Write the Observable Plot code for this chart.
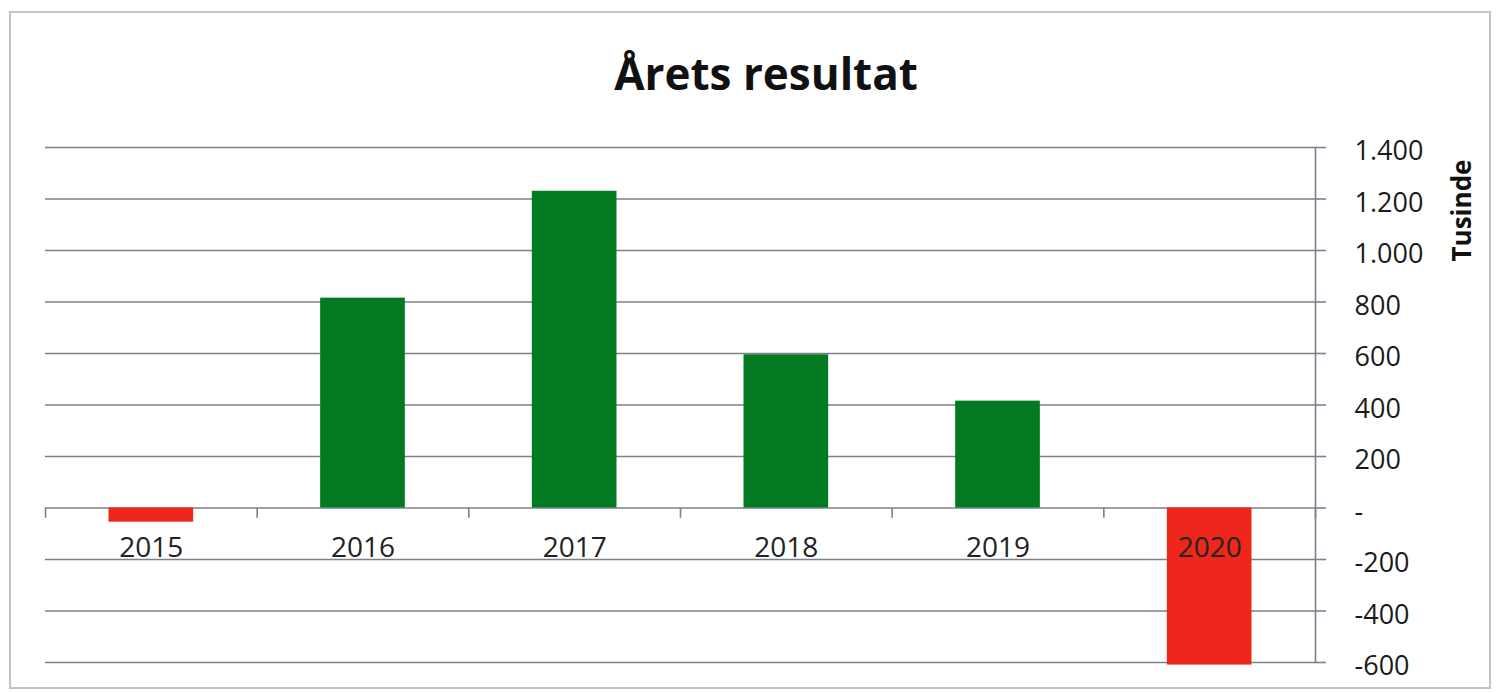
<!DOCTYPE html>
<html>
<head>
<meta charset="utf-8">
<script src="https://cdn.jsdelivr.net/npm/d3@7"></script>
<script src="https://cdn.jsdelivr.net/npm/@observablehq/plot@0.6"></script>
<style>
  html, body { margin: 0; padding: 0; background: #fff; }
  #wrap { position: relative; width: 1498px; height: 693px; overflow: hidden; font-family: "Open Sans", sans-serif; }
  #border { position: absolute; left: 9px; top: 11px; width: 1478px; height: 674px; border: 2px solid #c4c4c4; }
  #title { position: absolute; top: 43px; left: 766px; transform: translateX(-50%); font-size: 44px; font-weight: 700; color: #111; white-space: nowrap; }
  #chart { position: absolute; left: 0; top: 120px; }
</style>
</head>
<body>
<div id="wrap">
  <div id="border"></div>
  <div id="title">Årets resultat</div>
  <div id="chart"></div>
</div>
<script>
const years = [2015, 2016, 2017, 2018, 2019, 2020];
const values = [-55, 815, 1230, 595, 415, -610];
const yTicks = [-600, -400, -200, 0, 200, 400, 600, 800, 1000, 1200, 1400];
const axisLabel = "Tusinde";

const data = years.map((y, i) => ({year: y, value: values[i]}));
const boundaries = years.map(y => y - 0.5).concat([years[years.length - 1] + 0.5]);
const loc = d3.formatLocale({decimal: ",", thousands: ".", grouping: [3], currency: ["", " kr"], minus: "-"});
const fmt = loc.format(",d");
const gridColor = "#7c7f8e";

const chart = Plot.plot({
  width: 1498,
  height: 573,
  marginTop: 27,
  marginBottom: 31,
  marginLeft: 45,
  marginRight: 183,
  style: {fontFamily: "Open Sans, sans-serif", background: "transparent"},
  x: {type: "linear", domain: [boundaries[0], boundaries[boundaries.length - 1]], axis: null},
  y: {domain: [-600, 1400], axis: null},
  marks: [
    Plot.ruleY(yTicks, {stroke: gridColor, strokeWidth: 1.6}),
    Plot.axisY({
      anchor: "right", ticks: yTicks, tickSize: 10,
      tickFormat: () => "", stroke: gridColor, strokeWidth: 1.6, label: null
    }),
    Plot.axisY({
      anchor: "right", ticks: yTicks, tickSize: 0, tickPadding: 39, dy: 4,
      tickFormat: d => d === 0 ? "-" : fmt(d),
      fontSize: 27, fill: "#1a1a1a", textAnchor: "start", label: null
    }),
    Plot.frame({anchor: "right", stroke: gridColor, strokeWidth: 1.6}),
    Plot.ruleX(boundaries, {y1: 0, y2: -40, stroke: gridColor, strokeWidth: 1.6}),
    Plot.rectY(data, {
      x1: d => d.year - 0.2, x2: d => d.year + 0.2, y1: 0, y2: "value",
      fill: d => d.value < 0 ? "#ee261c" : "#037a22"
    }),
    Plot.text(data, {x: "year", y: 0, text: d => String(d.year), dy: 40, fontSize: 28, fill: "#222"}),
    Plot.text([axisLabel], {
      frameAnchor: "top-right", text: d => d, rotate: -90, dx: 147, dy: 63,
      fontSize: 26, fontWeight: "bold", fill: "#111", textAnchor: "middle", lineAnchor: "middle"
    })
  ]
});
document.getElementById("chart").appendChild(chart);
</script>
</body>
</html>
